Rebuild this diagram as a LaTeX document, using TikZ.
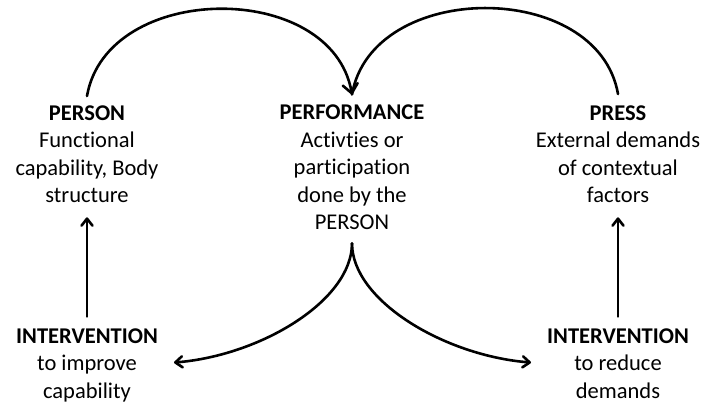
\documentclass[tikz,border=0pt]{standalone}
\usepackage{fontspec}
\setmainfont[Ligatures=NoCommon]{Carlito}
\usetikzlibrary{arrows.meta}
\begin{document}
\begin{tikzpicture}[x=1pt,y=-1pt,
  block/.style={align=center, inner sep=0pt, anchor=base,
    font=\fontsize{22.5}{27.5}\selectfont},
  link/.style={line width=2.6pt, line cap=round,
    -{Straight Barb[length=7pt,width=11pt,line cap=round,line join=round]}},
  bigtip/.style={-{Straight Barb[length=9pt,width=15pt,line cap=round,line join=round]}}]
\useasboundingbox (0,0) rectangle (704,403);

% the three main blocks (placed by the baseline of their last line)
\node[block] (pers) at (87,203) {\textbf{PERSON}\\Functional\\capability, Body\\structure};
\node[block] (perf) at (352,230) {\textbf{PERFORMANCE}\\Activties or\\participation\\done by the\\PERSON};
\node[block] (pres) at (618,203) {\textbf{PRESS}\\External demands\\of contextual\\factors};

% the two interventions
\node[block] (intl) at (87,398) {\textbf{INTERVENTION}\\to improve\\capability};
\node[block] (intr) at (618,398) {\textbf{INTERVENTION}\\to reduce\\demands};

% arcs from person and press into performance
\draw[link,bigtip] ([yshift=9.5pt]pers.north) .. controls +(20,-115) and +(-20,-115) .. ([yshift=10.5pt]perf.north);
\draw[line width=2.6pt, line cap=round] ([yshift=10.5pt]perf.north) .. controls +(20,-115) and +(-20,-115) .. ([yshift=11.5pt]pres.north);

% interventions acting on person and press
\draw[link] ([yshift=11.5pt]intl.north) -- ([yshift=-14pt]pers.south);
\draw[link] ([yshift=11.5pt]intr.north) -- ([yshift=-14pt]pres.south);

% performance leading to the interventions
\draw[link] ([yshift=-13pt]perf.south) .. controls +(0,57) and +(87,-7) .. ([shift={(16,34.5)}]intl.north east);
\draw[link] ([yshift=-13pt]perf.south) .. controls +(0,57) and +(-87,-7) .. ([shift={(-16,34.5)}]intr.north west);
\end{tikzpicture}
\end{document}
